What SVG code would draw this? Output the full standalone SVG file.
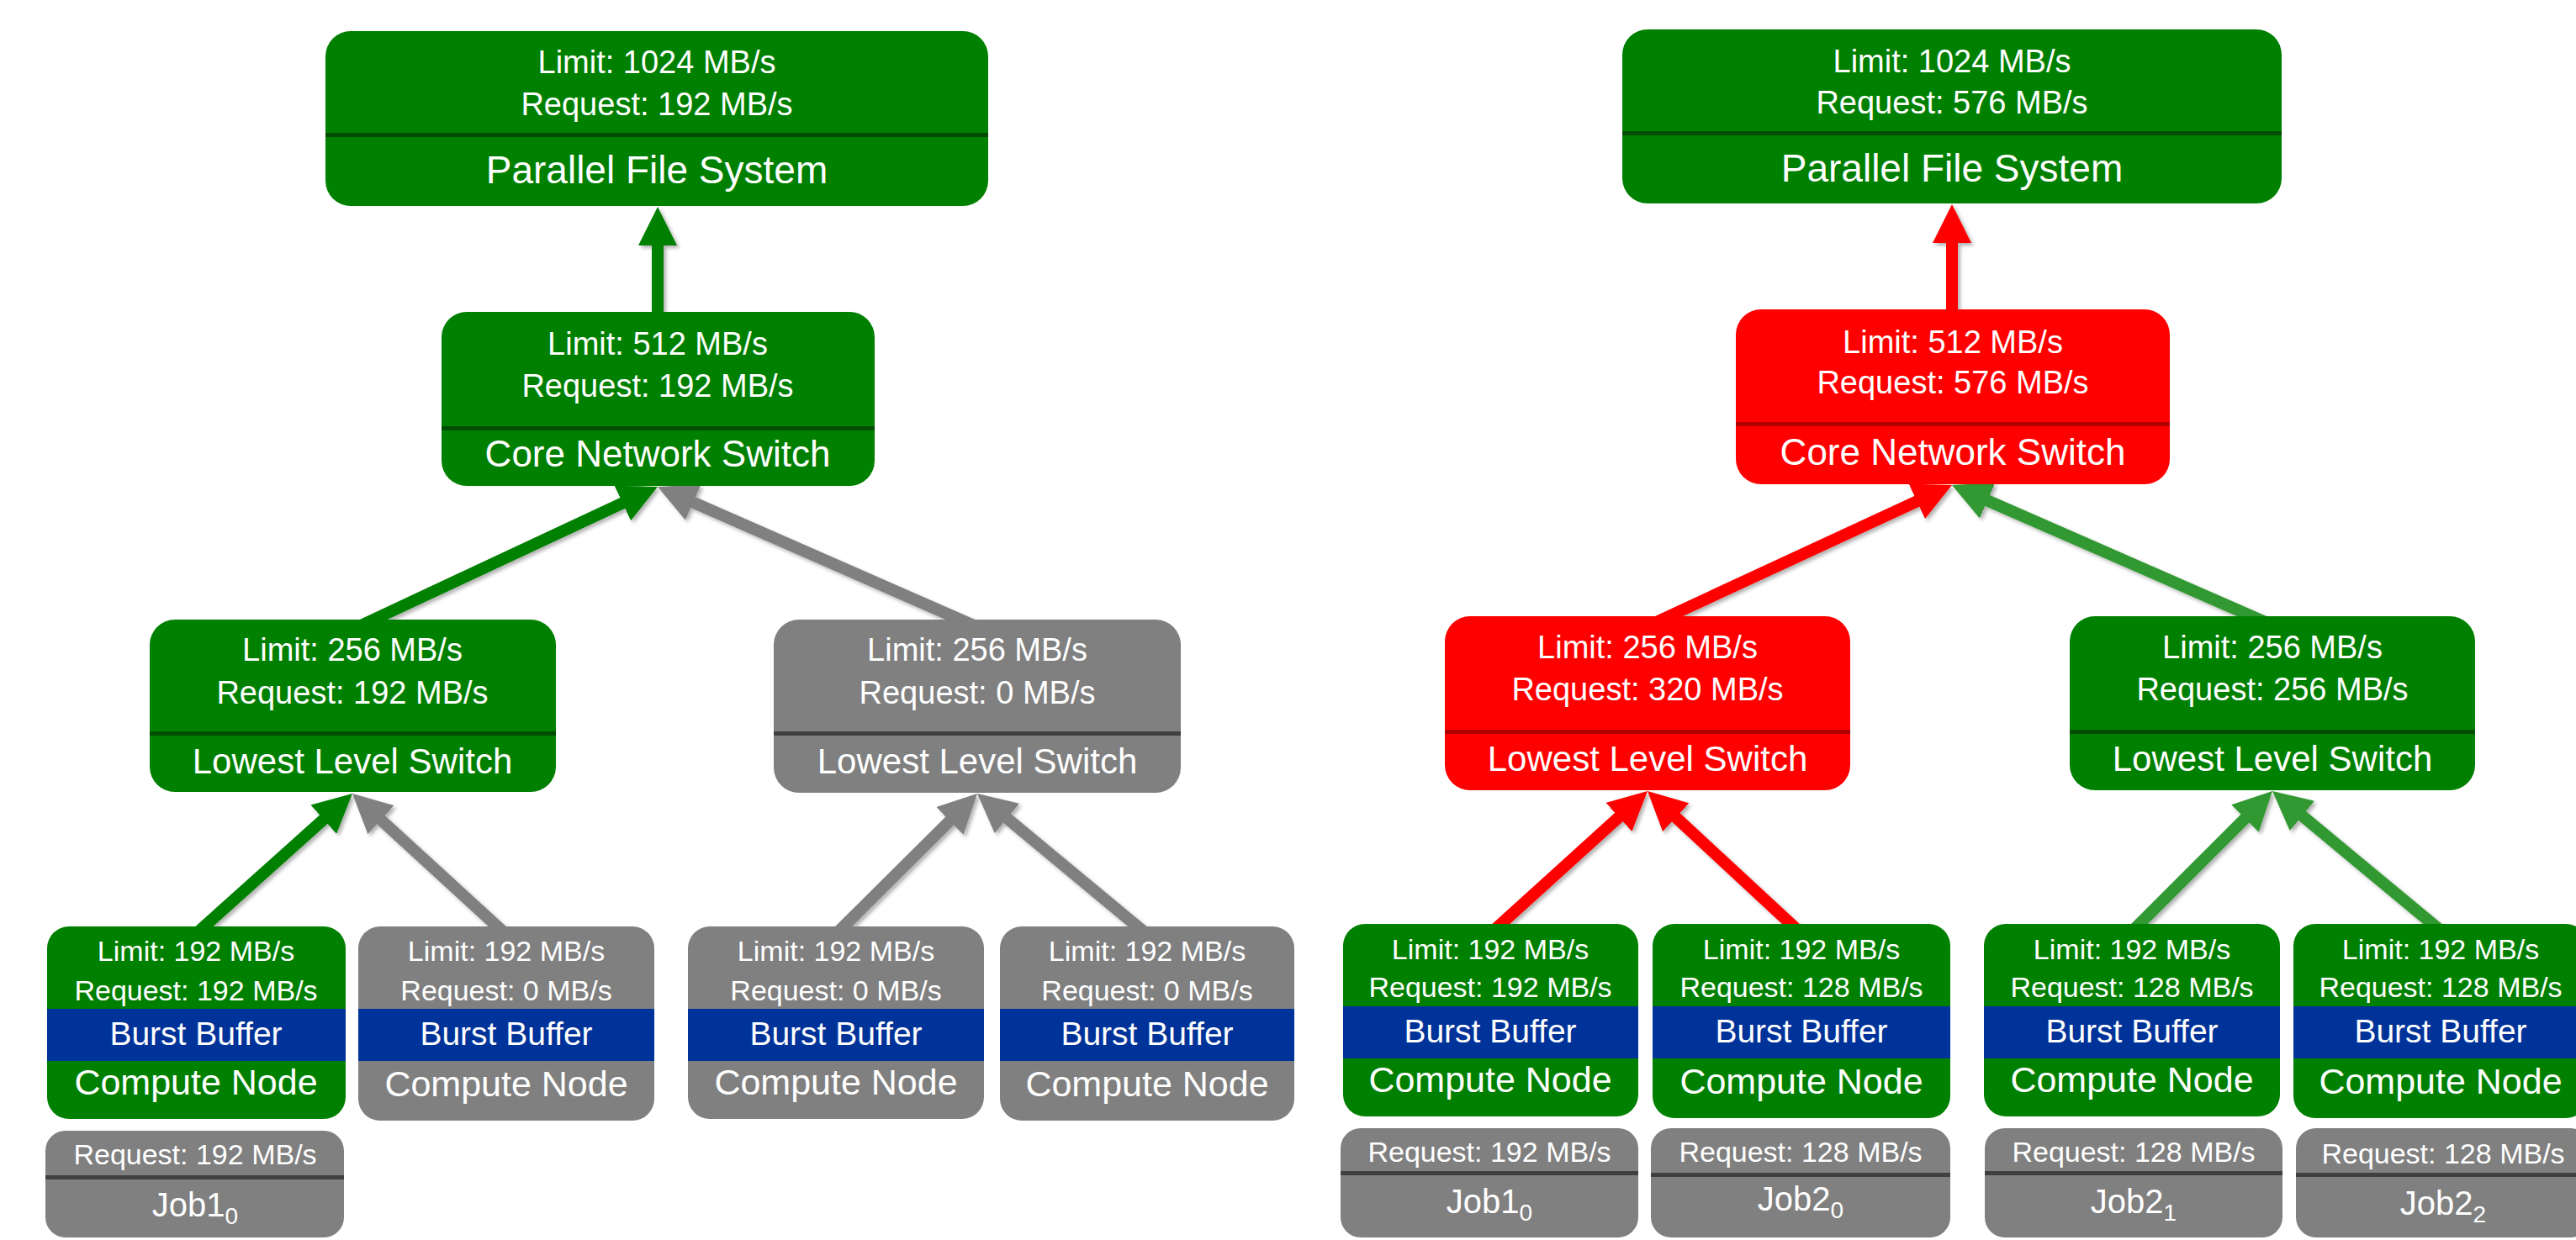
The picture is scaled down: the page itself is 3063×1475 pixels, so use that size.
<svg xmlns="http://www.w3.org/2000/svg" width="3063" height="1475" viewBox="0 0 3063 1475">
  <style>
    .t { font-family: "Liberation Sans", Arial, sans-serif; fill: #ffffff; text-anchor: middle; }
    .ln { font-size: 38px; }
    .ttl { font-size: 44px; }
    .cl { font-size: 34px; }
    .bb { font-size: 39px; }
    .cn { font-size: 43px; }
    .jb { font-size: 40px; }
    .sub { font-size: 28px; }
    .green { fill: #008000; }
    .gray { fill: #808080; }
    .red { fill: #ff0000; }
    .blue { fill: #003399; }
    .dv-green { fill: #004c00; }
    .dv-gray { fill: #404040; }
    .dv-red { fill: #b20000; }
    .wire { fill: none; stroke-width: 14; }
  </style>
  <defs>
    <filter id="shadow" x="-20%" y="-20%" width="140%" height="140%">
      <feDropShadow dx="3" dy="3" stdDeviation="2" flood-color="#000000" flood-opacity="0.3"/>
    </filter>
    <marker id="ah-green" viewBox="0 0 46 46" refX="16" refY="23" markerWidth="46" markerHeight="46" markerUnits="userSpaceOnUse" orient="auto">
      <path d="M0,0 L46,23 L0,46 z" fill="#008000"/>
    </marker>
    <marker id="ah-gray" viewBox="0 0 46 46" refX="16" refY="23" markerWidth="46" markerHeight="46" markerUnits="userSpaceOnUse" orient="auto">
      <path d="M0,0 L46,23 L0,46 z" fill="#808080"/>
    </marker>
    <marker id="ah-red" viewBox="0 0 46 46" refX="16" refY="23" markerWidth="46" markerHeight="46" markerUnits="userSpaceOnUse" orient="auto">
      <path d="M0,0 L46,23 L0,46 z" fill="#ff0000"/>
    </marker>
    <marker id="ah-lgreen" viewBox="0 0 46 46" refX="16" refY="23" markerWidth="46" markerHeight="46" markerUnits="userSpaceOnUse" orient="auto">
      <path d="M0,0 L46,23 L0,46 z" fill="#339933"/>
    </marker>
  </defs>

  <rect width="3063" height="1475" fill="#ffffff"/>

  <!-- connectors: child -> parent, drawn under the nodes -->
  <g id="connectors" filter="url(#shadow)">
    <path class="wire" stroke="#008000" marker-end="url(#ah-green)" d="M782,380 L782,276"/>
    <path class="wire" stroke="#008000" marker-end="url(#ah-green)" d="M427,745 L754.8,591.7"/>
    <path class="wire" stroke="#808080" marker-end="url(#ah-gray)" d="M1160,745 L809.5,591.1"/>
    <path class="wire" stroke="#008000" marker-end="url(#ah-green)" d="M234,1110 L396.7,964"/>
    <path class="wire" stroke="#808080" marker-end="url(#ah-gray)" d="M600,1110 L441.1,964.3"/>
    <path class="wire" stroke="#808080" marker-end="url(#ah-gray)" d="M995,1110 L1140.7,965.1"/>
    <path class="wire" stroke="#808080" marker-end="url(#ah-gray)" d="M1362,1110 L1185.1,963.2"/>

    <path class="wire" stroke="#ff0000" marker-end="url(#ah-red)" d="M2321,378 L2321,273"/>
    <path class="wire" stroke="#ff0000" marker-end="url(#ah-red)" d="M1965,742 L2293.8,589.6"/>
    <path class="wire" stroke="#339933" marker-end="url(#ah-lgreen)" d="M2698,742 L2348.5,589"/>
    <path class="wire" stroke="#ff0000" marker-end="url(#ah-red)" d="M1776,1107 L1936.8,961.2"/>
    <path class="wire" stroke="#ff0000" marker-end="url(#ah-red)" d="M2138,1107 L1981,961.4"/>
    <path class="wire" stroke="#339933" marker-end="url(#ah-lgreen)" d="M2536,1107 L2680.8,962.2"/>
    <path class="wire" stroke="#339933" marker-end="url(#ah-lgreen)" d="M2902,1107 L2725.1,960.2"/>
  </g>

  <!-- ===== left tree ===== -->
  <g id="pfs-a">
    <rect class="green" x="387" y="37" width="788" height="208" rx="30"/>
    <rect class="dv-green" x="387" y="158" width="788" height="5"/>
    <text class="t ln" x="781" y="87">Limit: 1024 MB/s</text>
    <text class="t ln" x="781" y="137">Request: 192 MB/s</text>
    <text class="t ttl" x="781" y="218" style="font-size:46px">Parallel File System</text>
  </g>

  <g id="core-a">
    <rect class="green" x="525" y="371" width="515" height="207" rx="30"/>
    <rect class="dv-green" x="525" y="507" width="515" height="5"/>
    <text class="t ln" x="782" y="422">Limit: 512 MB/s</text>
    <text class="t ln" x="782" y="472">Request: 192 MB/s</text>
    <text class="t ttl" x="782" y="555">Core Network Switch</text>
  </g>

  <g id="lls-a1">
    <rect class="green" x="178" y="737" width="483" height="205" rx="30"/>
    <rect class="dv-green" x="178" y="870" width="483" height="5"/>
    <text class="t ln" x="419" y="786">Limit: 256 MB/s</text>
    <text class="t ln" x="419" y="837">Request: 192 MB/s</text>
    <text class="t ttl" x="419" y="920" style="font-size:42px">Lowest Level Switch</text>
  </g>

  <g id="lls-a2">
    <rect class="gray" x="920" y="737" width="484" height="206" rx="30"/>
    <rect class="dv-gray" x="920" y="870" width="484" height="5"/>
    <text class="t ln" x="1162" y="786">Limit: 256 MB/s</text>
    <text class="t ln" x="1162" y="837">Request: 0 MB/s</text>
    <text class="t ttl" x="1162" y="920" style="font-size:42px">Lowest Level Switch</text>
  </g>

  <g id="cn-a1">
    <rect class="green" x="56" y="1102" width="355" height="229" rx="26"/>
    <rect class="blue" x="56" y="1200" width="355" height="62"/>
    <text class="t cl" x="233" y="1143">Limit: 192 MB/s</text>
    <text class="t cl" x="233" y="1190">Request: 192 MB/s</text>
    <text class="t bb" x="233" y="1243">Burst Buffer</text>
    <text class="t cn" x="233" y="1302">Compute Node</text>
  </g>

  <g id="cn-a2">
    <rect class="gray" x="426" y="1102" width="352" height="231" rx="26"/>
    <rect class="blue" x="426" y="1200" width="352" height="62"/>
    <text class="t cl" x="602" y="1143">Limit: 192 MB/s</text>
    <text class="t cl" x="602" y="1190">Request: 0 MB/s</text>
    <text class="t bb" x="602" y="1243">Burst Buffer</text>
    <text class="t cn" x="602" y="1304">Compute Node</text>
  </g>

  <g id="cn-a3">
    <rect class="gray" x="818" y="1102" width="352" height="229" rx="26"/>
    <rect class="blue" x="818" y="1200" width="352" height="62"/>
    <text class="t cl" x="994" y="1143">Limit: 192 MB/s</text>
    <text class="t cl" x="994" y="1190">Request: 0 MB/s</text>
    <text class="t bb" x="994" y="1243">Burst Buffer</text>
    <text class="t cn" x="994" y="1302">Compute Node</text>
  </g>

  <g id="cn-a4">
    <rect class="gray" x="1189" y="1102" width="350" height="231" rx="26"/>
    <rect class="blue" x="1189" y="1200" width="350" height="62"/>
    <text class="t cl" x="1364" y="1143">Limit: 192 MB/s</text>
    <text class="t cl" x="1364" y="1190">Request: 0 MB/s</text>
    <text class="t bb" x="1364" y="1243">Burst Buffer</text>
    <text class="t cn" x="1364" y="1304">Compute Node</text>
  </g>

  <g id="job-a1">
    <rect class="gray" x="54" y="1345" width="355" height="127" rx="24"/>
    <rect class="dv-gray" x="54" y="1398" width="355" height="5"/>
    <text class="t cl" x="232" y="1385">Request: 192 MB/s</text>
    <text class="t jb" x="232" y="1447">Job1<tspan class="sub" dy="9">0</tspan></text>
  </g>

  <!-- ===== right tree ===== -->
  <g id="pfs-b">
    <rect class="green" x="1929" y="35" width="784" height="207" rx="30"/>
    <rect class="dv-green" x="1929" y="156" width="784" height="5"/>
    <text class="t ln" x="2321" y="86">Limit: 1024 MB/s</text>
    <text class="t ln" x="2321" y="135">Request: 576 MB/s</text>
    <text class="t ttl" x="2321" y="216" style="font-size:46px">Parallel File System</text>
  </g>

  <g id="core-b">
    <rect class="red" x="2064" y="368" width="516" height="208" rx="30"/>
    <rect class="dv-red" x="2064" y="502" width="516" height="5"/>
    <text class="t ln" x="2322" y="420">Limit: 512 MB/s</text>
    <text class="t ln" x="2322" y="468">Request: 576 MB/s</text>
    <text class="t ttl" x="2322" y="553">Core Network Switch</text>
  </g>

  <g id="lls-b1">
    <rect class="red" x="1718" y="733" width="482" height="207" rx="30"/>
    <rect class="dv-red" x="1718" y="868" width="482" height="5"/>
    <text class="t ln" x="1959" y="783">Limit: 256 MB/s</text>
    <text class="t ln" x="1959" y="833">Request: 320 MB/s</text>
    <text class="t ttl" x="1959" y="917" style="font-size:42px">Lowest Level Switch</text>
  </g>

  <g id="lls-b2">
    <rect class="green" x="2461" y="733" width="482" height="207" rx="30"/>
    <rect class="dv-green" x="2461" y="868" width="482" height="5"/>
    <text class="t ln" x="2702" y="783">Limit: 256 MB/s</text>
    <text class="t ln" x="2702" y="833">Request: 256 MB/s</text>
    <text class="t ttl" x="2702" y="917" style="font-size:42px">Lowest Level Switch</text>
  </g>

  <g id="cn-b1">
    <rect class="green" x="1597" y="1099" width="351" height="229" rx="26"/>
    <rect class="blue" x="1597" y="1197" width="351" height="62"/>
    <text class="t cl" x="1772" y="1141">Limit: 192 MB/s</text>
    <text class="t cl" x="1772" y="1186">Request: 192 MB/s</text>
    <text class="t bb" x="1772" y="1240">Burst Buffer</text>
    <text class="t cn" x="1772" y="1299">Compute Node</text>
  </g>

  <g id="cn-b2">
    <rect class="green" x="1965" y="1099" width="354" height="231" rx="26"/>
    <rect class="blue" x="1965" y="1197" width="354" height="62"/>
    <text class="t cl" x="2142" y="1141">Limit: 192 MB/s</text>
    <text class="t cl" x="2142" y="1186">Request: 128 MB/s</text>
    <text class="t bb" x="2142" y="1240">Burst Buffer</text>
    <text class="t cn" x="2142" y="1301">Compute Node</text>
  </g>

  <g id="cn-b3">
    <rect class="green" x="2359" y="1099" width="352" height="229" rx="26"/>
    <rect class="blue" x="2359" y="1197" width="352" height="62"/>
    <text class="t cl" x="2535" y="1141">Limit: 192 MB/s</text>
    <text class="t cl" x="2535" y="1186">Request: 128 MB/s</text>
    <text class="t bb" x="2535" y="1240">Burst Buffer</text>
    <text class="t cn" x="2535" y="1299">Compute Node</text>
  </g>

  <g id="cn-b4">
    <rect class="green" x="2727" y="1099" width="350" height="231" rx="26"/>
    <rect class="blue" x="2727" y="1197" width="350" height="62"/>
    <text class="t cl" x="2902" y="1141">Limit: 192 MB/s</text>
    <text class="t cl" x="2902" y="1186">Request: 128 MB/s</text>
    <text class="t bb" x="2902" y="1240">Burst Buffer</text>
    <text class="t cn" x="2902" y="1301">Compute Node</text>
  </g>

  <g id="job-b1">
    <rect class="gray" x="1594" y="1342" width="354" height="130" rx="24"/>
    <rect class="dv-gray" x="1594" y="1393" width="354" height="5"/>
    <text class="t cl" x="1771" y="1382">Request: 192 MB/s</text>
    <text class="t jb" x="1771" y="1443">Job1<tspan class="sub" dy="9">0</tspan></text>
  </g>

  <g id="job-b2">
    <rect class="gray" x="1963" y="1342" width="356" height="130" rx="24"/>
    <rect class="dv-gray" x="1963" y="1395" width="356" height="5"/>
    <text class="t cl" x="2141" y="1382">Request: 128 MB/s</text>
    <text class="t jb" x="2141" y="1440">Job2<tspan class="sub" dy="9">0</tspan></text>
  </g>

  <g id="job-b3">
    <rect class="gray" x="2360" y="1342" width="354" height="130" rx="24"/>
    <rect class="dv-gray" x="2360" y="1393" width="354" height="5"/>
    <text class="t cl" x="2537" y="1382">Request: 128 MB/s</text>
    <text class="t jb" x="2537" y="1443">Job2<tspan class="sub" dy="9">1</tspan></text>
  </g>

  <g id="job-b4">
    <rect class="gray" x="2730" y="1342" width="350" height="130" rx="24"/>
    <rect class="dv-gray" x="2730" y="1395" width="350" height="5"/>
    <text class="t cl" x="2905" y="1384">Request: 128 MB/s</text>
    <text class="t jb" x="2905" y="1445">Job2<tspan class="sub" dy="9">2</tspan></text>
  </g>
</svg>
